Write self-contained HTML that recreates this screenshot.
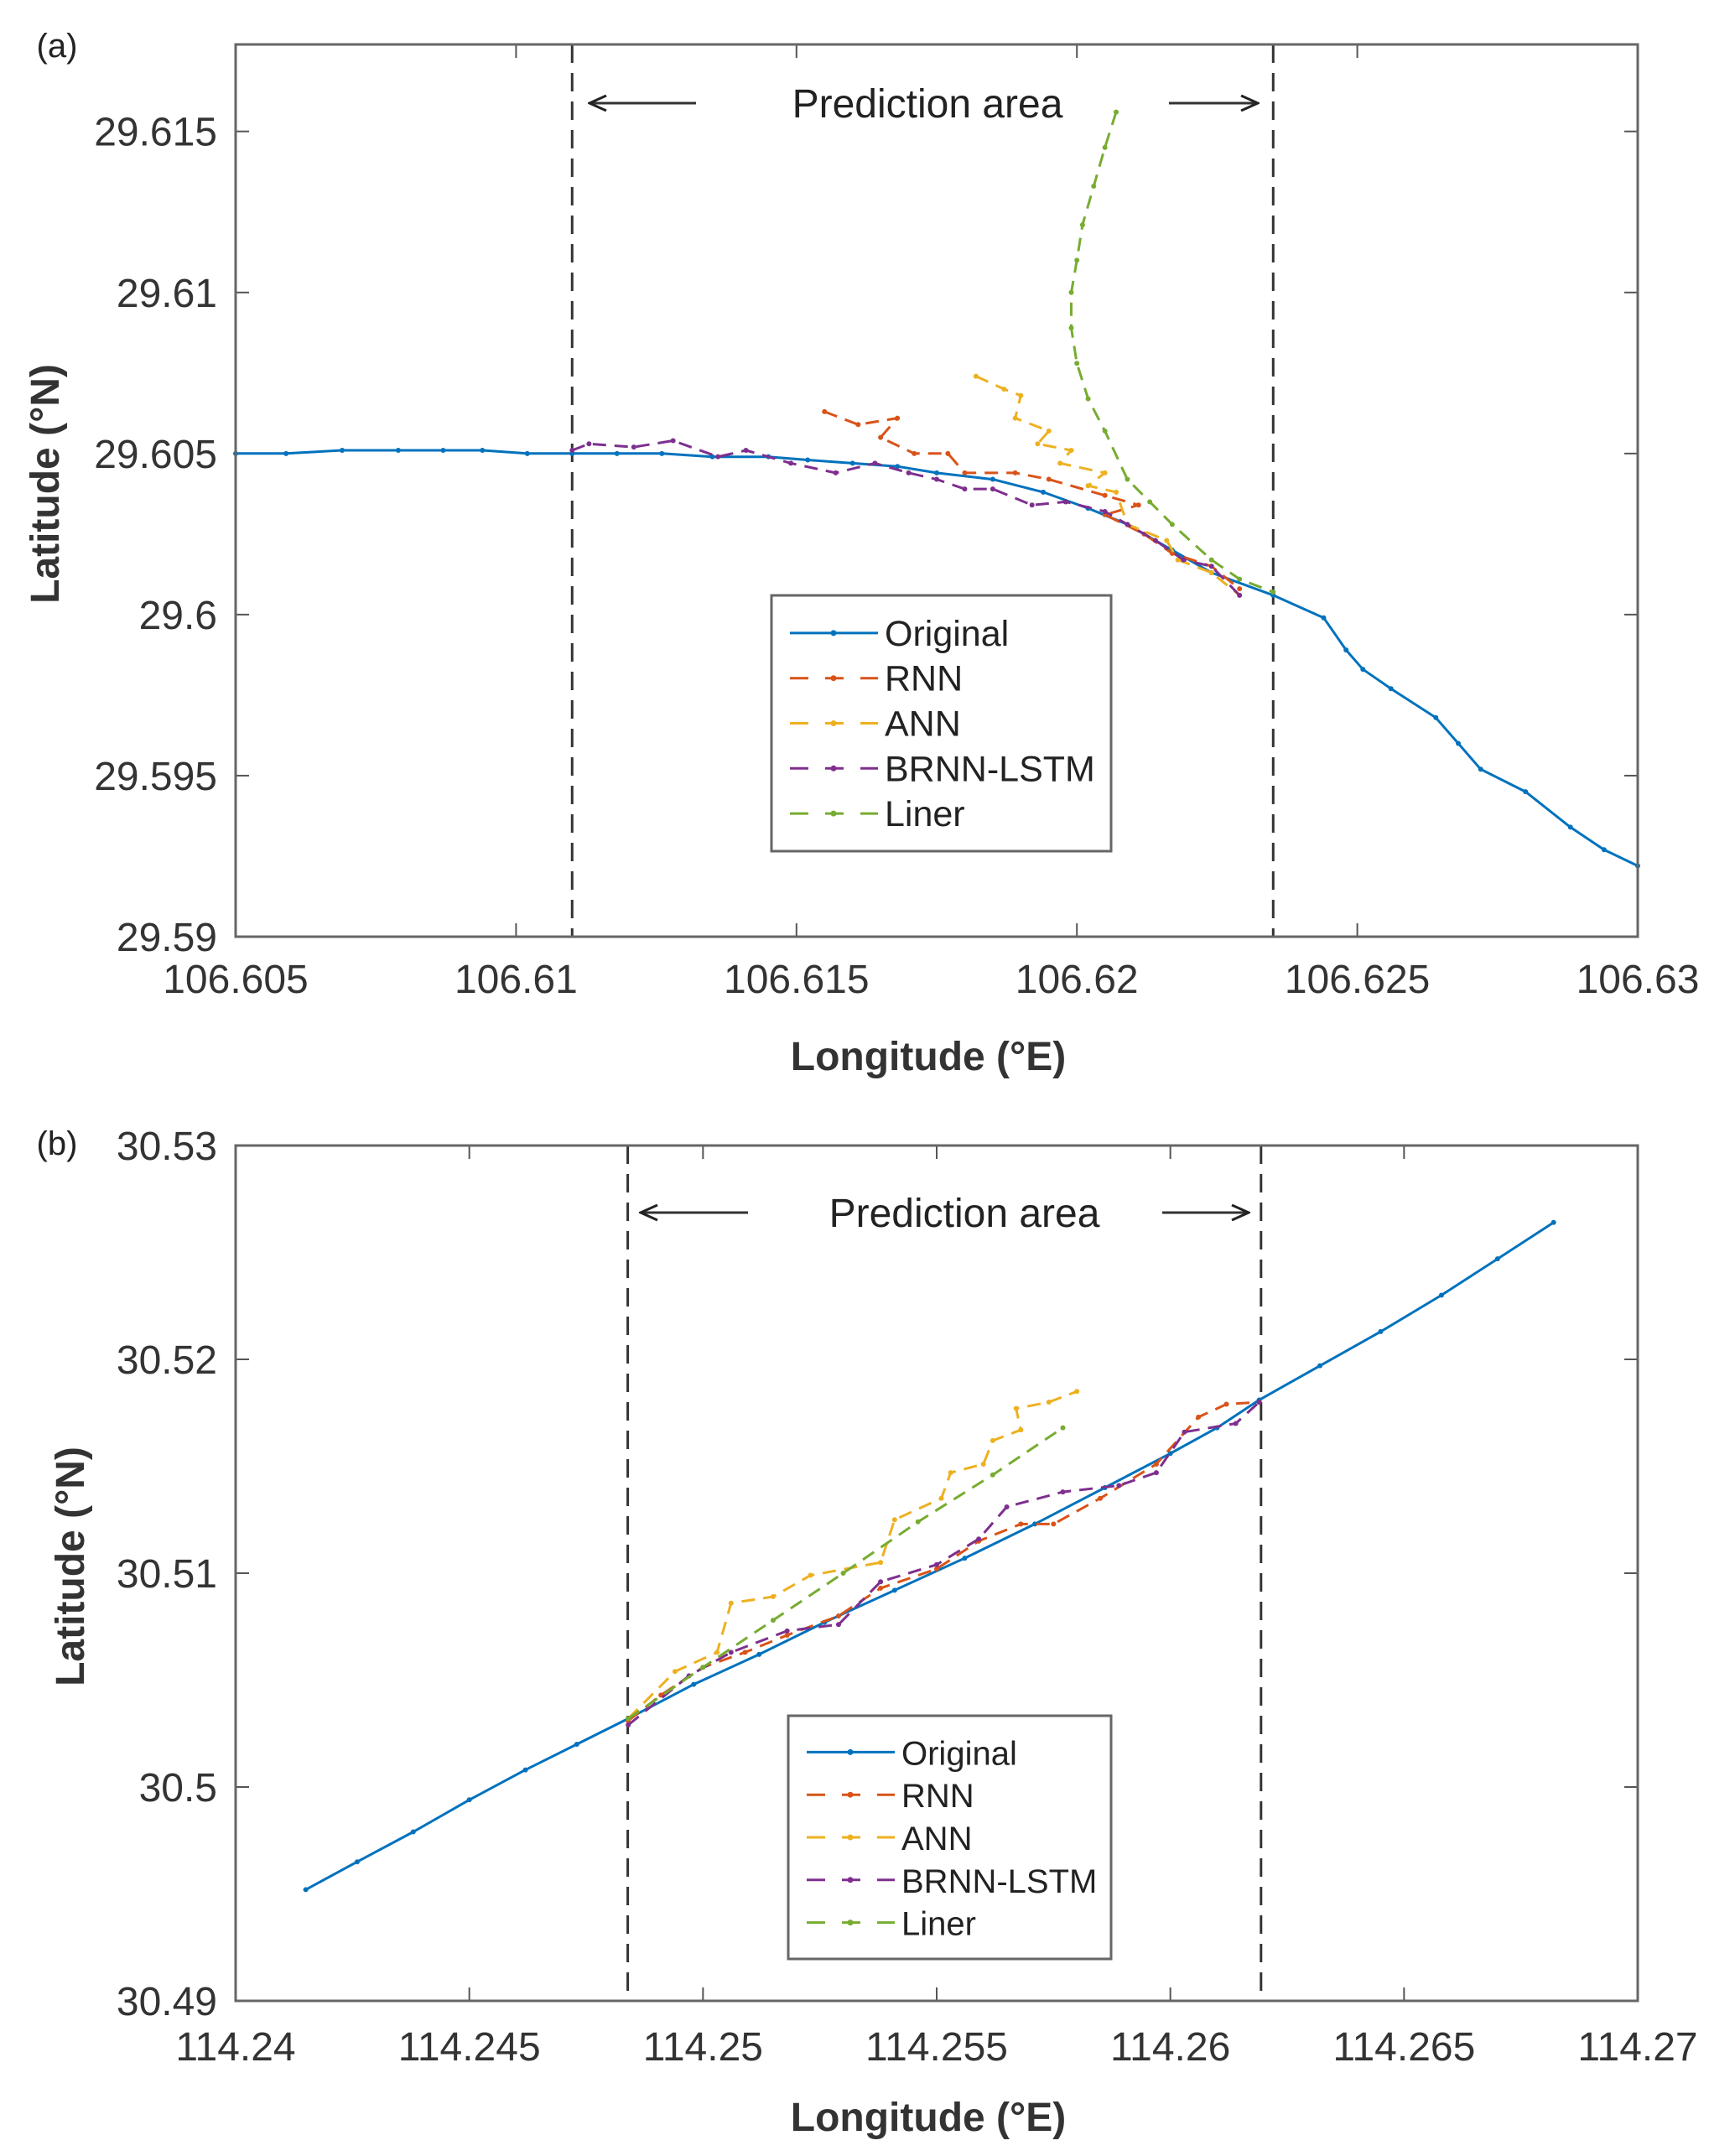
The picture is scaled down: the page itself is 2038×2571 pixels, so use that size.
<!DOCTYPE html>
<html><head><meta charset="utf-8"><style>
html,body{margin:0;padding:0;background:#fff;}
svg{display:block;font-family:"Liberation Sans",Arial,sans-serif;}
</style></head><body>
<svg id="fig" width="2038" height="2571" viewBox="0 0 2038 2571" xmlns="http://www.w3.org/2000/svg">
<defs>
<marker id="ah" markerWidth="24" markerHeight="20" refX="22" refY="10" orient="auto" markerUnits="userSpaceOnUse"><path d="M2,1 L22,10 L2,19" fill="none" stroke="#222" stroke-width="3"/></marker>
</defs>
</svg>
<script>
// ---------- Panel (a) data ----------
const aOrigLon=[106.605,106.6059,106.6069,106.6079,106.6087,106.6094,106.6102,106.6110,106.6118,106.6126,106.6135,106.6145,106.6152,106.6160,106.6168,106.6175,106.6185,106.6194,106.6202,106.6209,106.6217,106.6224,106.6235,106.6244,106.6248,106.6251,106.6256,106.6264,106.6268,106.6272,106.6280,106.6288,106.6294,106.6300];
const aOrigLat=[29.6050,29.6050,29.6051,29.6051,29.6051,29.6051,29.6050,29.6050,29.6050,29.6050,29.6049,29.6049,29.6048,29.6047,29.6046,29.6044,29.6042,29.6038,29.6033,29.6028,29.6020,29.6013,29.6006,29.5999,29.5989,29.5983,29.5977,29.5968,29.5960,29.5952,29.5945,29.5934,29.5927,29.5922];
const aRnnLon=[106.6155,106.6161,106.6168,106.6165,106.6171,106.6177,106.6180,106.6189,106.6195,106.6205,106.6211,106.6205,106.6212,106.6217,106.6224,106.6229];
const aRnnLat=[29.6063,29.6059,29.6061,29.6055,29.6050,29.6050,29.6044,29.6044,29.6042,29.6037,29.6034,29.6031,29.6025,29.6019,29.6015,29.6008];
const aAnnLon=[106.6182,106.6187,106.6190,106.6189,106.6195,106.6193,106.6199,106.6197,106.6205,106.6202,106.6207,106.6209,106.6216,106.6218,106.6224,106.6229];
const aAnnLat=[29.6074,29.6070,29.6068,29.6061,29.6057,29.6053,29.6051,29.6047,29.6044,29.6040,29.6038,29.6028,29.6023,29.6017,29.6013,29.6006];
const aBrnnLon=[106.6110,106.6113,106.6121,106.6128,106.6136,106.6141,106.6149,106.6157,106.6164,106.6170,106.6175,106.6180,106.6185,106.6192,106.6198,106.6205,106.6209,106.6214,106.6219,106.6224,106.6229];
const aBrnnLat=[29.6051,29.6053,29.6052,29.6054,29.6049,29.6051,29.6047,29.6044,29.6047,29.6044,29.6042,29.6039,29.6039,29.6034,29.6035,29.6032,29.6028,29.6023,29.6017,29.6015,29.6006];
const aLinLon=[106.6207,106.6205,106.6203,106.6201,106.6200,106.6199,106.6199,106.6200,106.6202,106.6205,106.6209,106.6213,106.6217,106.6224,106.6229,106.6235];
const aLinLat=[29.6156,29.6145,29.6133,29.6121,29.6110,29.6100,29.6089,29.6078,29.6067,29.6057,29.6042,29.6035,29.6028,29.6017,29.6011,29.6007];
const aXTicks=[106.605,106.61,106.615,106.62,106.625,106.63];
const aXTickLabels=["106.605","106.61","106.615","106.62","106.625","106.63"];
const aYTicks=[29.59,29.595,29.6,29.605,29.61,29.615];
const aYTickLabels=["29.59","29.595","29.6","29.605","29.61","29.615"];
const aBounds=[106.6110,106.6235];
// ---------- Panel (b) data ----------
const bOrigLon=[114.2415,114.2426,114.2438,114.2450,114.2462,114.2473,114.2484,114.2498,114.2512,114.2526,114.2541,114.2556,114.2571,114.2586,114.2600,114.2610,114.2619,114.2632,114.2645,114.2658,114.2670,114.2682];
const bOrigLat=[30.4952,30.4965,30.4979,30.4994,30.5008,30.5020,30.5032,30.5048,30.5062,30.5077,30.5092,30.5107,30.5123,30.5140,30.5156,30.5168,30.5181,30.5197,30.5213,30.5230,30.5247,30.5264];
const bRnnLon=[114.2484,114.2491,114.2500,114.2509,114.2518,114.2529,114.2538,114.2550,114.2559,114.2568,114.2575,114.2585,114.2597,114.2606,114.2612,114.2619];
const bRnnLat=[30.5031,30.5043,30.5056,30.5063,30.5071,30.5080,30.5093,30.5102,30.5115,30.5123,30.5123,30.5135,30.5151,30.5173,30.5179,30.5180];
const bAnnLon=[114.2484,114.2494,114.2503,114.2506,114.2515,114.2523,114.2538,114.2541,114.2551,114.2553,114.2560,114.2562,114.2568,114.2567,114.2574,114.2580];
const bAnnLat=[30.5032,30.5054,30.5063,30.5086,30.5089,30.5099,30.5105,30.5125,30.5135,30.5147,30.5151,30.5162,30.5167,30.5177,30.5180,30.5185];
const bBrnnLon=[114.2484,114.2497,114.2506,114.2518,114.2529,114.2538,114.2550,114.2559,114.2565,114.2577,114.2589,114.2597,114.2603,114.2614,114.2619];
const bBrnnLat=[30.5029,30.5052,30.5063,30.5073,30.5076,30.5096,30.5104,30.5116,30.5131,30.5138,30.5141,30.5147,30.5166,30.5170,30.5180];
const bLinLon=[114.2484,114.2500,114.2515,114.2530,114.2546,114.2562,114.2577];
const bLinLat=[30.5032,30.5056,30.5078,30.5100,30.5124,30.5146,30.5168];
const bXTicks=[114.24,114.245,114.25,114.255,114.26,114.265,114.27];
const bXTickLabels=["114.24","114.245","114.25","114.255","114.26","114.265","114.27"];
const bYTicks=[30.49,30.5,30.51,30.52,30.53];
const bYTickLabels=["30.49","30.5","30.51","30.52","30.53"];
const bBounds=[114.24839,114.26194];
const seriesNames=["Original","RNN","ANN","BRNN-LSTM","Liner"];
const colors=["#0072BD","#D95319","#EDB120","#7E2F8E","#77AC30"];

const svg=document.getElementById('fig');
const NS="http://www.w3.org/2000/svg";
function mk(tag,attrs,parent){const e=document.createElementNS(NS,tag);for(const k in attrs)e.setAttribute(k,attrs[k]);(parent||svg).appendChild(e);return e;}

function panel(P){
  const g=mk('g',{});
  
  
  const X=v=>P.L+(v-P.x0)/(P.x1-P.x0)*(P.R-P.L);
  const Y=v=>P.B-(v-P.y0)/(P.y1-P.y0)*(P.B-P.T);
  mk('rect',{x:P.L,y:P.T,width:P.R-P.L,height:P.B-P.T,fill:'#fff'},g);
  P.xt.forEach((t,i)=>{const x=X(t);
    mk('line',{x1:x,y1:P.B,x2:x,y2:P.B-16,stroke:'#555','stroke-width':2},g);
    mk('line',{x1:x,y1:P.T,x2:x,y2:P.T+16,stroke:'#555','stroke-width':2},g);
    const tx=mk('text',{x:x,y:P.xlY,'text-anchor':'middle','font-size':48,fill:'#333'},g);
    tx.textContent=P.xl[i];
    
    });
  P.yt.forEach((t,i)=>{const y=Y(t);
    mk('line',{x1:P.L,y1:y,x2:P.L+16,y2:y,stroke:'#555','stroke-width':2},g);
    mk('line',{x1:P.R,y1:y,x2:P.R-16,y2:y,stroke:'#555','stroke-width':2},g);
    const tx=mk('text',{x:259,y:y+17,'text-anchor':'end','font-size':48,fill:'#333'},g);
    tx.textContent=P.yl[i];
    
    });
  P.bounds.forEach(b=>{const l=mk('line',{x1:X(b),y1:P.T,x2:X(b),y2:P.B,stroke:'#333','stroke-width':3,'stroke-dasharray':'22,12'},g);
    
    });
  const pt=mk('text',{x:P.ptX,y:P.ptY+17,'text-anchor':'middle','font-size':48,fill:'#222'},g);
  pt.textContent='Prediction area';
  
  
  const a1=mk('line',{x1:P.arL[0],y1:P.ptY,x2:P.arL[1],y2:P.ptY,stroke:'#333','stroke-width':3,'marker-end':'url(#ah)'},g);
  
  
  const a2=mk('line',{x1:P.arR[0],y1:P.ptY,x2:P.arR[1],y2:P.ptY,stroke:'#333','stroke-width':3,'marker-end':'url(#ah)'},g);
  
  
  P.series.forEach((s,si)=>{
    const d=s[0].map((v,i)=>(i?'L':'M')+X(v).toFixed(1)+','+Y(s[1][i]).toFixed(1)).join(' ');
    const p=mk('path',{d:d,fill:'none',stroke:colors[si],'stroke-width':3,'stroke-dasharray':si?'16,10':'none','stroke-linejoin':'round'},g);
    
    
    s[0].forEach((v,i)=>{const c=mk('circle',{cx:X(v),cy:Y(s[1][i]),r:3,fill:colors[si]},g);
      
      });
  });
  mk('rect',{x:P.L,y:P.T,width:P.R-P.L,height:P.B-P.T,fill:'none',stroke:'#666','stroke-width':3},g);
  const xl=mk('text',{x:(P.L+P.R)/2-10,y:P.xLabY,'text-anchor':'middle','font-size':48,'font-weight':'bold',fill:'#333'},g);
  xl.textContent='Longitude (°E)';
  
  
  const yc=(P.T+P.B)/2-8;
  const yl=mk('text',{x:P.yLabX,y:yc,'text-anchor':'middle','font-size':48,'font-weight':'bold',fill:'#333',transform:'rotate(-90 '+P.yLabX+' '+yc+')'},g);
  yl.textContent='Latitude (°N)';
  
  
  const pl=mk('text',{x:P.plX,y:P.plY,'text-anchor':'middle','font-size':40,fill:'#222'},g);
  pl.textContent=P.tag;
  
  
  const lg=mk('g',{},g);
  
  
  mk('rect',{x:P.lg[0],y:P.lg[1],width:P.lg[2],height:P.lg[3],fill:'#fff',stroke:'#666','stroke-width':3},lg);
  const rowH=(P.lg[3]-36)/5;
  seriesNames.forEach((n,i)=>{
    const y=P.lg[1]+18+rowH*(i+0.5);
    mk('line',{x1:P.lg[0]+22,y1:y,x2:P.lg[0]+127,y2:y,stroke:colors[i],'stroke-width':3,'stroke-dasharray':i?'22,20':'none'},lg);
    mk('circle',{cx:P.lg[0]+74,cy:y,r:3.5,fill:colors[i]},lg);
    const t=mk('text',{x:P.lg[0]+135,y:y+15,'font-size':P.lgFont,fill:'#222'},lg);
    t.textContent=n;
    
    
  });
}

panel({id:'a',tag:'(a)',L:281,R:1953,T:53,B:1117,x0:106.605,x1:106.63,y0:29.59,y1:29.6177,
  xt:aXTicks,xl:aXTickLabels,yt:aYTicks,yl:aYTickLabels,bounds:aBounds,
  xlY:1184,xLabY:1276,yLabX:70,plX:68,plY:68,ptX:1106,ptY:123,arL:[830,703],arR:[1394,1500],
  lg:[920,710,405,305],lgFont:43,
  series:[[aOrigLon,aOrigLat],[aRnnLon,aRnnLat],[aAnnLon,aAnnLat],[aBrnnLon,aBrnnLat],[aLinLon,aLinLat]]});
panel({id:'b',tag:'(b)',L:281,R:1953,T:1366,B:2386,x0:114.24,x1:114.27,y0:30.49,y1:30.53,
  xt:bXTicks,xl:bXTickLabels,yt:bYTicks,yl:bYTickLabels,bounds:bBounds,
  xlY:2457,xLabY:2541,yLabX:100,plX:68,plY:1377,ptX:1150,ptY:1446,arL:[892,764],arR:[1386,1489],
  lg:[940,2046,385,290],lgFont:40,
  series:[[bOrigLon,bOrigLat],[bRnnLon,bRnnLat],[bAnnLon,bAnnLat],[bBrnnLon,bBrnnLat],[bLinLon,bLinLat]]});
</script>
</body></html>
